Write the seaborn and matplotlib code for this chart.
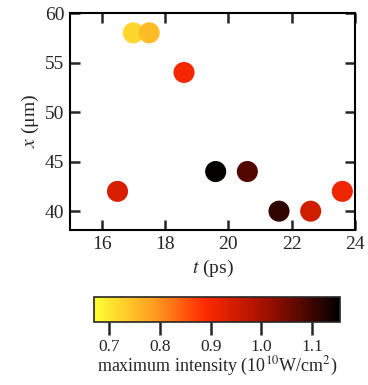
import numpy as np
import pandas as pd
import matplotlib
matplotlib.use("Agg")
import matplotlib.pyplot as plt
import seaborn as sns
from matplotlib.colors import LinearSegmentedColormap, Normalize

# data
t_ps = [16.5, 17.0, 17.5, 18.6, 19.6, 20.6, 21.6, 22.6, 23.6]
x_um = [42, 58, 58, 54, 44, 44, 40, 40, 42]
intensity = [0.94, 0.72, 0.75, 0.90, 1.15, 1.08, 1.11, 0.95, 0.91]
cbar_ticks = [0.7, 0.8, 0.9, 1.0, 1.1]

df = pd.DataFrame({"t": t_ps, "x": x_um, "I": intensity})

sns.set_style("ticks")
plt.rcParams["font.family"] = ["Liberation Serif", "DejaVu Serif"]
plt.rcParams["mathtext.fontset"] = "stix"

cmap = LinearSegmentedColormap.from_list(
    "yrk", [(0.0, "#ffff33"), (0.25, "#ff9a20"), (0.45, "#ff2a00"),
            (0.7, "#a01000"), (1.0, "#000000")])
norm = Normalize(vmin=0.67, vmax=1.155)

fig = plt.figure(figsize=(3.68, 3.85), dpi=100)
ax = fig.add_axes([70 / 368, 1 - 230 / 385, 285 / 368, 217 / 385])

sns.scatterplot(data=df, x="t", y="x", hue="I", palette=cmap, hue_norm=norm,
                s=230, linewidth=0, legend=False, ax=ax)

ax.set_xlim(15, 24)
ax.set_ylim(38.1, 60)
ax.set_xticks([16, 18, 20, 22, 24])
ax.set_yticks([40, 45, 50, 55, 60])
ax.tick_params(direction="in", length=7, width=1.8, top=True, right=True,
               labelsize=14, pad=4)
for sp in ax.spines.values():
    sp.set_linewidth(1.5)
    sp.set_color("black")
ax.set_xlabel("$t$ (ps)", fontsize=14, labelpad=4)
ax.set_ylabel("$x$ (μm)", fontsize=14, labelpad=3)

cax = fig.add_axes([94 / 368, 1 - 322 / 385, 246 / 368, 25 / 385])
sm = matplotlib.cm.ScalarMappable(norm=norm, cmap=cmap)
cb = fig.colorbar(sm, cax=cax, orientation="horizontal")
cb.set_ticks(cbar_ticks)
cb.set_ticklabels(["0.7", "0.8", "0.9", "1.0", "1.1"])
cax.tick_params(direction="out", length=9.5, width=1.8, labelsize=12.5, pad=3)
cb.outline.set_linewidth(1.2)
cb.set_label("maximum intensity (10$^{10}$W/cm$^{2}$)", fontsize=13, labelpad=0)

fig.savefig("out.png", dpi=100)
